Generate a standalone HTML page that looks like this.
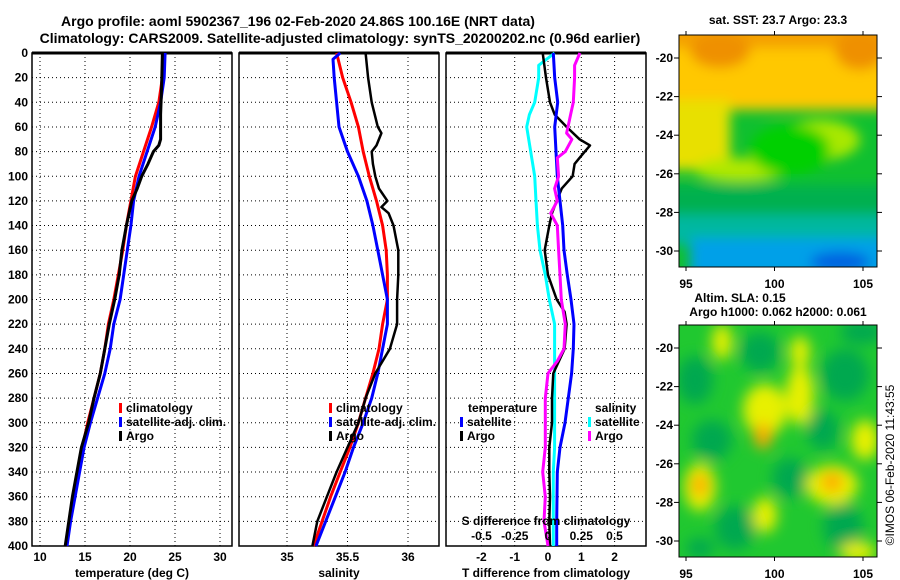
<!DOCTYPE html>
<html><head><meta charset="utf-8"><style>
html,body{margin:0;padding:0;background:#fff;}
svg{display:block;font-family:"Liberation Sans",Arial,sans-serif;font-weight:bold;}
</style></head><body>
<svg id="chart" width="900" height="580" viewBox="0 0 900 580">
<defs>
<filter id="blur1" x="-20%" y="-20%" width="140%" height="140%"><feGaussianBlur stdDeviation="6"/></filter>
<filter id="blur2" x="-20%" y="-20%" width="140%" height="140%"><feGaussianBlur stdDeviation="7"/></filter>
<clipPath id="clipM1"><rect x="679" y="35" width="198" height="232"/></clipPath>
<clipPath id="clipM2"><rect x="679" y="325" width="198" height="232"/></clipPath>
</defs>
<text x="298" y="26" font-size="14" text-anchor="middle">Argo profile: aoml 5902367_196 02-Feb-2020 24.86S 100.16E (NRT data)</text>
<text x="340" y="43" font-size="14" text-anchor="middle">Climatology: CARS2009. Satellite-adjusted climatology: synTS_20200202.nc (0.96d earlier)</text>
<g id="panels"></g>
<g id="maps"></g>
</svg>
<script>
// ---- data ----
const depths = [0,20,40,60,80,100,120,140,160,180,200,220,240,260,280,300,320,340,360,380,400];
const tempClim = [23.7,23.6,23.2,22.4,21.5,20.6,20.1,19.6,19.2,18.7,18.2,17.6,17.2,16.7,16.0,15.3,14.7,14.2,13.7,13.3,12.9];
const tempSat  = [23.9,23.8,23.4,22.8,21.9,21.0,20.4,20.1,19.7,19.3,18.9,18.2,17.8,17.2,16.4,15.6,14.9,14.4,13.9,13.4,13.0];
const tempArgoDepths = [0,30,50,60,70,75,80,90,100,110,120,140,160,180,200,220,240,260,280,300,320,340,360,380,400];
const tempArgo = [23.6,23.5,23.4,23.4,23.4,23.2,22.6,22.0,21.3,20.8,20.2,19.6,19.1,18.8,18.3,17.7,17.2,16.7,16.0,15.4,14.6,14.1,13.6,13.2,12.8];
const salClim = [35.41,35.46,35.53,35.59,35.63,35.68,35.74,35.79,35.82,35.83,35.83,35.79,35.76,35.71,35.65,35.59,35.52,35.44,35.36,35.29,35.22];
const salSatDepths = [0,5,20,40,60,80,100,120,140,160,180,200,220,240,260,280,300,320,340,360,380,400];
const salSat = [35.44,35.38,35.39,35.41,35.43,35.50,35.59,35.66,35.71,35.75,35.79,35.83,35.83,35.79,35.75,35.70,35.63,35.55,35.48,35.40,35.32,35.24];
const salArgoDepths = [0,20,40,60,65,75,80,90,100,110,120,125,130,140,160,180,200,220,240,260,280,300,320,340,360,380,400];
const salArgo = [35.65,35.67,35.70,35.75,35.78,35.74,35.70,35.71,35.73,35.76,35.83,35.78,35.84,35.88,35.92,35.92,35.91,35.91,35.85,35.73,35.65,35.59,35.50,35.41,35.33,35.25,35.21];
const dTArgoDepths = [0,20,40,50,60,70,75,85,90,100,110,120,130,140,160,180,200,210,220,240,260,280,300,320,340,360,380,400];
const dTArgo = [-0.16,-0.06,0.06,0.2,0.56,0.95,1.26,0.95,0.8,0.74,0.41,0.26,0.12,0.04,-0.1,0,0.26,0.5,0.56,0.5,0.16,0.12,0.12,0.04,0.04,0.06,0.04,0.06];
const dTSat = [0.16,0.2,0.29,0.2,0.24,0.28,0.36,0.44,0.48,0.58,0.69,0.78,0.76,0.71,0.61,0.51,0.36,0.28,0.27,0.26,0.26];
const dSSatDepths = [0,10,20,40,50,60,80,100,120,140,160,180,200,220,240,260,280,300,320,340,360,380,400];
const dSSat = [0.05,-0.07,-0.07,-0.10,-0.14,-0.16,-0.13,-0.10,-0.09,-0.08,-0.06,-0.02,0.01,0.05,0.05,0.05,0.05,0.05,0.05,0.04,0.04,0.04,0.04];
const dSArgoDepths = [0,10,20,40,50,60,65,70,80,85,100,110,120,130,140,160,180,200,220,240,250,260,280,300,320,340,360,380,400];
const dSArgo = [0.24,0.2,0.2,0.19,0.17,0.15,0.14,0.18,0.13,0.07,0.08,0.05,0.07,0.02,0.07,0.08,0.09,0.1,0.13,0.12,0.07,0,-0.02,-0.02,-0.02,-0.04,-0.02,-0.03,0];
const depthTicks = [0,20,40,60,80,100,120,140,160,180,200,220,240,260,280,300,320,340,360,380,400];
const tTicks = [10,15,20,25,30];
const sTicks = [35,35.5,36];
const dTTicks = [-2,-1,0,1,2];
const dSTicks = [-0.5,-0.25,0,0.25,0.5];
const latTicks = [-20,-22,-24,-26,-28,-30];
const lonTicks = [95,100,105];

const NS='http://www.w3.org/2000/svg';
function mk(tag, attrs, parent){const e=document.createElementNS(NS,tag);for(const k in attrs)e.setAttribute(k,attrs[k]);parent.appendChild(e);return e;}
const yD = d => 53 + d*1.2325;
const xT = t => 40 + (t-10)*9;
const xS = s => 287 + (s-35)*121;
const xDT = v => 548 + v*33.3;
const xDS = v => 548 + v*133;
const P = document.getElementById('panels');

function panel(x0, name, xticks, xf, xlabel, fmt){
  const g = mk('g',{},P);
  
  
  for(const d of depthTicks){ mk('line',{x1:x0,x2:x0+200,y1:yD(d),y2:yD(d),stroke:'#000','stroke-width':1,'stroke-dasharray':'1,3'},g); }
  for(const t of xticks){ mk('line',{x1:xf(t),x2:xf(t),y1:53,y2:546,stroke:'#000','stroke-width':1,'stroke-dasharray':'1,3'},g);
    if(fmt!==null){const tx=mk('text',{x:xf(t),y:561,'font-size':12,'text-anchor':'middle'},g);tx.textContent=fmt(t);
    
    }}
  mk('rect',{x:x0,y:53,width:200,height:493,fill:'none',stroke:'#000','stroke-width':1.5},g);
  mk('line',{x1:x0,x2:x0+200,y1:53,y2:53,stroke:'#000','stroke-width':3},g);
  const lab=mk('text',{x:x0+100,y:577,'font-size':12,'text-anchor':'middle'},g);lab.textContent=xlabel;
  
  
  return g;
}
function line(g, ds, vs, xf, col, w, name){
  const pts = vs.map((v,i)=>xf(v).toFixed(1)+','+yD(ds[i]).toFixed(1)).join(' ');
  const pl = mk('polyline',{points:pts,fill:'none',stroke:col,'stroke-width':w,'stroke-linejoin':'round'},g);
  
  
}
function legend(g, x, y, col, label){
  mk('rect',{x:x,y:y-9,width:3,height:10,fill:col},g);
  const t=mk('text',{x:x+7,y:y,'font-size':12},g);t.textContent=label;
  
  
}
for(const d of depthTicks){const t=mk('text',{x:28,y:yD(d)+4,'font-size':12,'text-anchor':'end'},P);t.textContent=d;
  
  }

const g1 = panel(32,'temperature-panel',tTicks,xT,'temperature (deg C)',v=>v);
line(g1,depths,tempClim,xT,'#f00',3,'temp-climatology-line');
line(g1,depths,tempSat,xT,'#00f',3,'temp-satellite-line');
line(g1,tempArgoDepths,tempArgo,xT,'#000',3,'temp-argo-line');
legend(g1,119,412,'#f00','climatology');legend(g1,119,426,'#00f','satellite-adj. clim.');legend(g1,119,440,'#000','Argo');

const g2 = panel(239,'salinity-panel',sTicks,xS,'salinity',v=>v);
line(g2,depths,salClim,xS,'#f00',3,'sal-climatology-line');
line(g2,salSatDepths,salSat,xS,'#00f',3,'sal-satellite-line');
line(g2,salArgoDepths,salArgo,xS,'#000',2.5,'sal-argo-line');
legend(g2,329,412,'#f00','climatology');legend(g2,329,426,'#00f','satellite-adj. clim.');legend(g2,329,440,'#000','Argo');

const g3 = panel(446,'difference-panel',dTTicks,xDT,'T difference from climatology',v=>v);
line(g3,dSSatDepths,dSSat,xDS,'#0ff',3,'sal-diff-satellite-line');
line(g3,dTArgoDepths,dTArgo,xDT,'#000',2.5,'temp-diff-argo-line');
line(g3,depths,dTSat,xDT,'#00f',3,'temp-diff-satellite-line');
line(g3,dSArgoDepths,dSArgo,xDS,'#f0f',3,'sal-diff-argo-line');
{const t=mk('text',{x:468,y:412,'font-size':12},g3);t.textContent='temperature';
 
 
 const s=mk('text',{x:595,y:412,'font-size':12},g3);s.textContent='salinity';
 
 }
legend(g3,460,426,'#00f','satellite');legend(g3,460,440,'#000','Argo');
legend(g3,588,426,'#0ff','satellite');legend(g3,588,440,'#f0f','Argo');
{const t=mk('text',{x:546,y:525,'font-size':12,'text-anchor':'middle'},g3);t.textContent='S difference from climatology';
 
 }
for(const v of dSTicks){const t=mk('text',{x:xDS(v),y:540,'font-size':12,'text-anchor':'middle'},g3);t.textContent=v;
 
 }

// ---- maps ----
const M = document.getElementById('maps');
function axes(g, top, yM20){
  const yl = lat => yM20 + (-20-lat)*19.3;
  const xl = lon => 686 + (lon-95)*17.7;
  mk('rect',{x:679,y:top,width:198,height:232,fill:'none',stroke:'#000','stroke-width':1},g);
  for(const la of latTicks){mk('line',{x1:674,x2:679,y1:yl(la),y2:yl(la),stroke:'#000'},g);
    mk('line',{x1:877,x2:882,y1:yl(la),y2:yl(la),stroke:'#000'},g);
    const t=mk('text',{x:673,y:yl(la)+4,'font-size':12,'text-anchor':'end'},g);t.textContent=la;
    
    }
  for(const lo of lonTicks){mk('line',{x1:xl(lo),x2:xl(lo),y1:top-4,y2:top,stroke:'#000'},g);
    mk('line',{x1:xl(lo),x2:xl(lo),y1:top+232,y2:top+236,stroke:'#000'},g);
    const t=mk('text',{x:xl(lo),y:top+253,'font-size':12,'text-anchor':'middle'},g);t.textContent=lo;
    
    }
}
// SST map
const m1=mk('g',{},M);


const c1=mk('g',{'clip-path':'url(#clipM1)'},m1);
mk('rect',{x:679,y:35,width:198,height:232,fill:'#10c030'},c1);
const b1=mk('g',{filter:'url(#blur1)'},c1);
mk('rect',{x:660,y:20,width:240,height:90,fill:'#ffc800'},b1);
mk('rect',{x:660,y:100,width:70,height:70,fill:'#e8e000'},b1);
mk('ellipse',{cx:820,cy:140,rx:40,ry:20,fill:'#a8e800'},b1);
mk('ellipse',{cx:740,cy:170,rx:45,ry:12,fill:'#b0e800'},b1);
mk('rect',{x:660,y:20,width:240,height:28,fill:'#f4a000'},b1);
mk('ellipse',{cx:720,cy:50,rx:30,ry:18,fill:'#ef9000'},b1);
mk('ellipse',{cx:860,cy:50,rx:25,ry:20,fill:'#ef9000'},b1);
mk('ellipse',{cx:790,cy:150,rx:40,ry:25,fill:'#00d000'},b1);
mk('rect',{x:660,y:185,width:240,height:40,fill:'#00b050'},b1);
mk('rect',{x:660,y:215,width:240,height:30,fill:'#00b8a0'},b1);
mk('rect',{x:690,y:238,width:200,height:40,fill:'#00a0e8'},b1);
mk('ellipse',{cx:840,cy:262,rx:30,ry:10,fill:'#0060e0'},b1);
axes(m1,35,58);
{const t=mk('text',{x:778,y:24,'font-size':12,'text-anchor':'middle'},m1);t.textContent='sat. SST: 23.7 Argo: 23.3';
 
 }
// SLA map
const m2=mk('g',{},M);


const c2=mk('g',{'clip-path':'url(#clipM2)'},m2);
mk('rect',{x:679,y:325,width:198,height:232,fill:'#20c830'},c2);
const b2=mk('g',{filter:'url(#blur2)'},c2);
const dark=[[695,380,18,24],[760,352,20,20],[845,375,24,26],[712,440,20,20],[823,430,16,20],[790,478,18,20],[735,528,20,22],[843,527,20,24],[862,332,22,12],[700,548,14,10]];
for(const e of dark) mk('ellipse',{cx:e[0],cy:e[1],rx:e[2],ry:e[3],fill:'#00a850'},b2);
const yellow=[[722,342,10,18],[765,410,22,26],[800,395,14,30],[700,487,16,24],[832,485,26,20],[865,440,14,20],[765,515,12,18],[858,552,18,10],[800,352,10,16]];
for(const e of yellow) mk('ellipse',{cx:e[0],cy:e[1],rx:e[2],ry:e[3],fill:'#e8f000'},b2);
const orange=[[763,436,9,13],[700,485,8,12],[832,482,11,10]];
for(const e of orange) mk('ellipse',{cx:e[0],cy:e[1],rx:e[2],ry:e[3],fill:'#ffa800'},b2);
axes(m2,325,348);
{const t=mk('text',{x:740,y:302,'font-size':12,'text-anchor':'middle'},m2);t.textContent='Altim. SLA: 0.15';
 
 
 const u=mk('text',{x:778,y:316,'font-size':12,'text-anchor':'middle'},m2);u.textContent='Argo h1000: 0.062 h2000: 0.061';
 
 
 const w=mk('text',{x:894,y:465,'font-size':12,'font-weight':'normal','text-anchor':'middle',transform:'rotate(-90 894 465)'},m2);w.textContent='©IMOS 06-Feb-2020 11:43:55';
 
 }
</script>
</body></html>
